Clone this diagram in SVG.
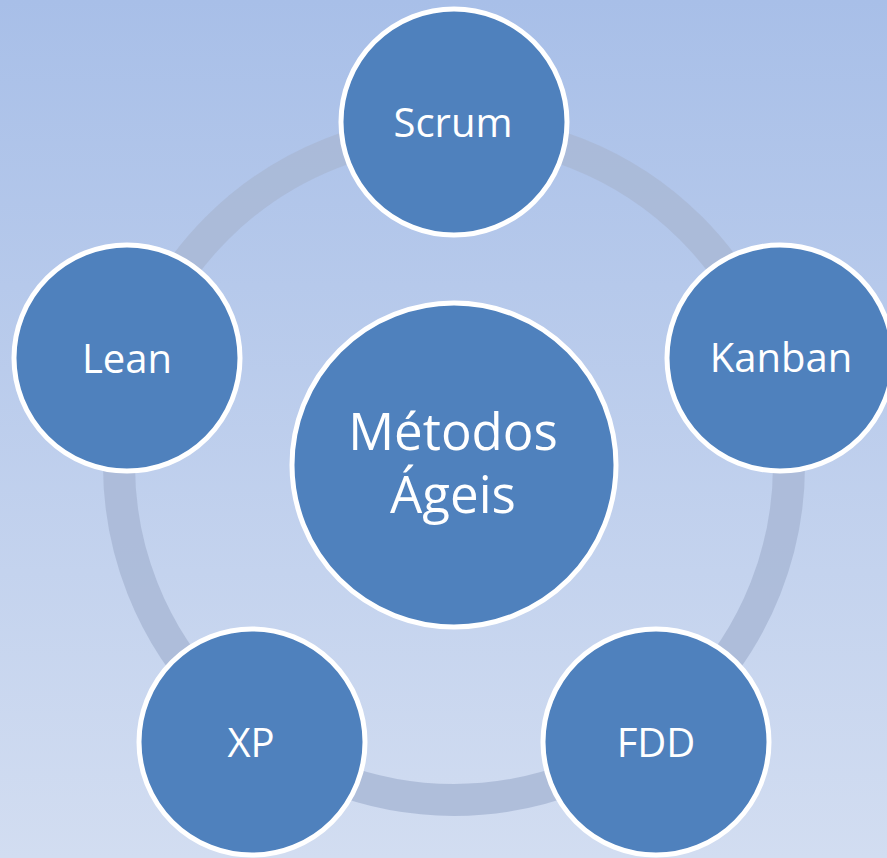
<svg xmlns="http://www.w3.org/2000/svg" width="887" height="858" viewBox="0 0 887 858">
<defs>
<linearGradient id="bg" x1="0" y1="0" x2="0" y2="1">
<stop offset="0" stop-color="#a8bfe8"/>
<stop offset="1" stop-color="#d2ddf1"/>
</linearGradient>
<style>
.node{fill:#4f81bd;stroke:#ffffff;stroke-width:5}
.lbl{fill:#ffffff;font-family:"Open Sans","Noto Sans",sans-serif;text-anchor:middle}
.sm{font-size:40px}
.lg{font-size:51px}
</style>
</defs>
<rect width="887" height="858" fill="url(#bg)"/>
<g id="connectors">
<circle cx="454" cy="465" r="335" fill="none" stroke="#a9b9d6" stroke-opacity="0.85" stroke-width="32"/>
</g>
<g id="center">
<circle class="node" cx="454" cy="465" r="162"/>
<text class="lbl lg" x="453" y="450">Métodos</text>
<text class="lbl lg" x="453" y="513">Ágeis</text>
</g>
<g id="scrum">
<circle class="node" cx="454" cy="122" r="113"/>
<text class="lbl sm" x="453" y="137">Scrum</text>
</g>
<g id="kanban">
<circle class="node" cx="780" cy="358" r="113"/>
<text class="lbl sm" x="781" y="372">Kanban</text>
</g>
<g id="fdd">
<circle class="node" cx="656" cy="742" r="113"/>
<text class="lbl sm" x="656" y="757">FDD</text>
</g>
<g id="xp">
<circle class="node" cx="252" cy="742" r="113"/>
<text class="lbl sm" x="251" y="757">XP</text>
</g>
<g id="lean">
<circle class="node" cx="127" cy="358" r="113"/>
<text class="lbl sm" x="127" y="373">Lean</text>
</g>
</svg>
